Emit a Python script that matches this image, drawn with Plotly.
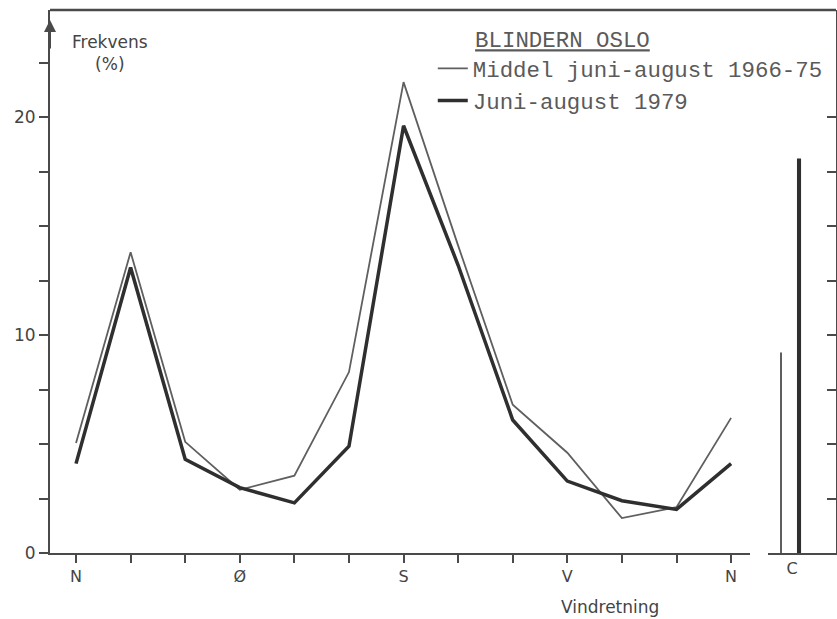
import plotly.graph_objects as go

# ---- data ----
direction_deg = [0, 30, 60, 90, 120, 150, 180, 210, 240, 270, 300, 330, 360]
direction_labels = ["N", "", "", "Ø", "", "", "S", "", "", "V", "", "", "N"]
middel_1966_75 = [5.05, 13.8, 5.1, 2.9, 3.55, 8.3, 21.6, 14.1, 6.8, 4.6, 1.6, 2.1, 6.2]
juni_aug_1979 = [4.1, 13.1, 4.3, 3.0, 2.3, 4.9, 19.6, 13.2, 6.1, 3.3, 2.4, 2.0, 4.1]
calm_category = ["C"]
calm_middel = [9.2]
calm_1979 = [18.1]
y_tickvals = [0, 2.5, 5, 7.5, 10, 12.5, 15, 17.5, 20, 22.5]
y_ticktext = ["0", "", "", "", "10", "", "", "", "20", ""]
right_tickvals = [2.5, 5, 7.5, 10, 12.5, 15, 17.5, 20]

thin_col = "#5f5f5f"
thick_col = "#2f2f2f"
axis_col = "#4a4a4a"
text_col = "#444444"
mono = "Liberation Mono, Courier New, monospace"
sans = "DejaVu Sans, Liberation Sans, sans-serif"

fig = go.Figure()
fig.add_trace(go.Scatter(x=direction_deg, y=middel_1966_75, mode="lines",
                         name="Middel juni-august 1966-75", legendgroup="m",
                         line=dict(color=thin_col, width=1.8)))
fig.add_trace(go.Scatter(x=direction_deg, y=juni_aug_1979, mode="lines",
                         name="Juni-august 1979", legendgroup="j",
                         line=dict(color=thick_col, width=3.5)))
fig.add_trace(go.Bar(x=calm_category, y=calm_middel, xaxis="x2", yaxis="y",
                     width=0.03, offset=-0.177, marker=dict(color=thin_col, line=dict(width=0)),
                     showlegend=False, legendgroup="m", name="Middel juni-august 1966-75"))
fig.add_trace(go.Bar(x=calm_category, y=calm_1979, xaxis="x2", yaxis="y",
                     width=0.06, offset=0.073, marker=dict(color=thick_col, line=dict(width=0)),
                     showlegend=False, legendgroup="j", name="Juni-august 1979"))
# invisible trace to carry the right-hand axis
fig.add_trace(go.Scatter(x=calm_category, y=[0], xaxis="x2", yaxis="y2", mode="markers",
                         marker=dict(opacity=0), showlegend=False, hoverinfo="skip"))

yr = [0, 24.91]
fig.update_layout(
    width=837, height=619,
    margin=dict(l=50, r=1, t=10, b=66),
    paper_bgcolor="white", plot_bgcolor="white",
    barmode="overlay",
    xaxis=dict(domain=[0, 0.8906], range=[-14.3, 370.4], tickvals=direction_deg,
               ticktext=direction_labels, ticks="outside", ticklen=8, tickwidth=2,
               tickcolor=axis_col, showline=True, linecolor=axis_col, linewidth=2,
               showgrid=False, zeroline=False, anchor="y",
               tickfont=dict(family=sans, size=16, color=text_col)),
    xaxis2=dict(domain=[0.9135, 1], range=[-0.353, 0.647], type="category",
                showline=True, linecolor=axis_col, linewidth=2, ticks="",
                showgrid=False, zeroline=False, anchor="y",
                tickfont=dict(family=sans, size=16, color=text_col)),
    yaxis=dict(range=yr, tickvals=y_tickvals, ticktext=y_ticktext, ticks="outside",
               ticklen=9, tickwidth=2, tickcolor=axis_col, showline=True,
               linecolor=axis_col, linewidth=2, showgrid=False, zeroline=False,
               anchor="x", tickfont=dict(family=sans, size=17, color=text_col)),
    yaxis2=dict(range=yr, overlaying="y", side="right", anchor="x2",
                tickvals=right_tickvals, ticks="inside", ticklen=9, tickwidth=2,
                tickcolor=axis_col, showticklabels=False, showline=True,
                linecolor=axis_col, linewidth=2, showgrid=False, zeroline=False),
    legend=dict(x=0.487, y=0.985, xanchor="left", yanchor="top",
                bgcolor="rgba(0,0,0,0)", tracegroupgap=0,
                font=dict(family=mono, size=22.4, color="#5a5a5a"),
                title=dict(text="\u00a0\u00a0\u00a0<u>BLINDERN OSLO</u>",
                           font=dict(family=mono, size=22.4, color="#5a5a5a"))),
    showlegend=True,
)

fig.add_shape(type="line", xref="paper", yref="paper", x0=0, x1=1, y0=1, y1=1,
              line=dict(color=axis_col, width=2.5))
fig.add_annotation(xref="paper", yref="paper", x=0.076, y=1, xanchor="center",
                   yanchor="top", yshift=-20,
                   text="Frekvens<br>(%)", showarrow=False, align="center",
                   font=dict(family=sans, size=17, color=text_col))
fig.add_annotation(xref="paper", yref="paper", x=0.7125, y=-0.0994, xanchor="center",
                   yanchor="middle", text="Vindretning", showarrow=False,
                   font=dict(family=sans, size=17, color=text_col))
fig.add_annotation(xref="paper", yref="paper", x=0, y=0.9816, ax=0, ay=30,
                   text="", showarrow=True, arrowhead=2, arrowsize=1.2,
                   arrowwidth=2, arrowcolor=axis_col)

fig.write_html("out.html")
